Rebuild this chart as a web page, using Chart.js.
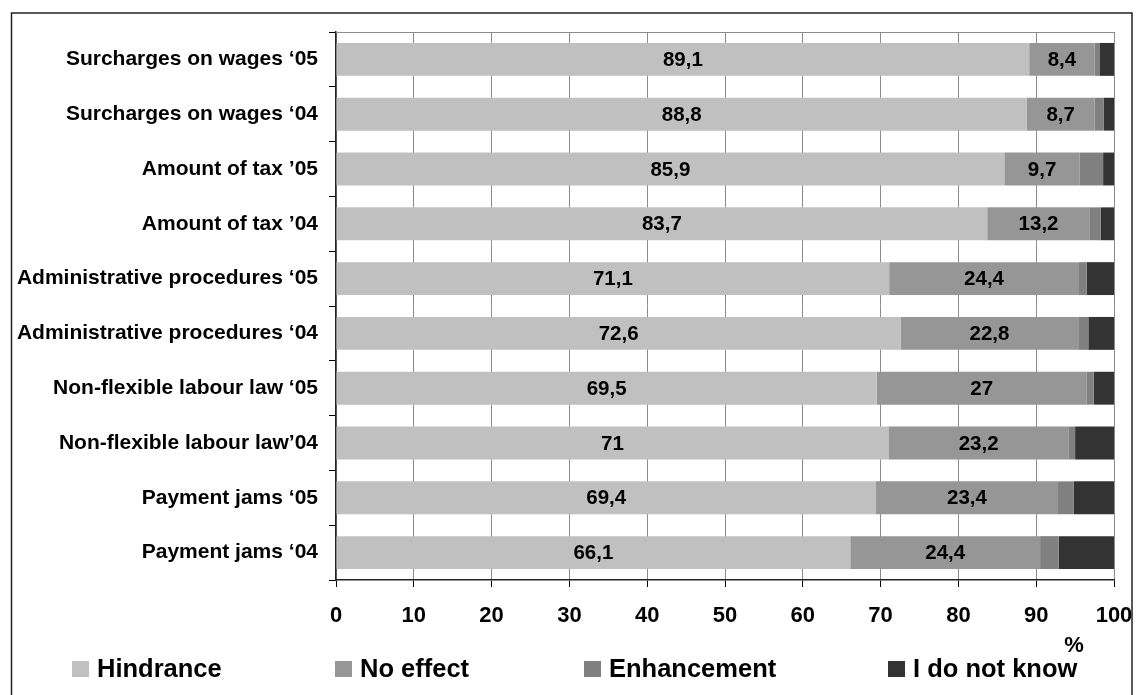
<!DOCTYPE html>
<html>
<head>
<meta charset="utf-8">
<script src="https://cdn.jsdelivr.net/npm/chart.js@4/dist/chart.umd.min.js"></script>
<style>
  html, body { margin: 0; padding: 0; background: #ffffff; }
  canvas { display: block; }
</style>
</head>
<body>
<canvas id="chart" width="1137" height="695"></canvas>
<script>
// Factors affecting business, share of answers in percent
const categories = [
  'Surcharges on wages \u201805',
  'Surcharges on wages \u201804',
  'Amount of tax \u201905',
  'Amount of tax \u201904',
  'Administrative procedures \u201805',
  'Administrative procedures \u201804',
  'Non-flexible labour law \u201805',
  'Non-flexible labour law\u201904',
  'Payment jams \u201805',
  'Payment jams \u201804'
];
const seriesNames = ['Hindrance', 'No effect', 'Enhancement', 'I do not know'];
const hindrance   = [89.1, 88.8, 85.9, 83.7, 71.1, 72.6, 69.5, 71, 69.4, 66.1];
const noEffect    = [8.4, 8.7, 9.7, 13.2, 24.4, 22.8, 27, 23.2, 23.4, 24.4];
const enhancement = [0.7, 1.2, 3.0, 1.4, 1.0, 1.3, 0.9, 0.8, 2.0, 2.4];
const dontKnow    = [1.8, 1.3, 1.4, 1.7, 3.5, 3.3, 2.6, 5.0, 5.2, 7.1];
const xTicks      = [0, 10, 20, 30, 40, 50, 60, 70, 80, 90, 100];
const unitLabel   = '%';

const colors = ['#c0c0c0', '#969696', '#808080', '#333333'];
const FONT = '"Liberation Sans", Arial, Helvetica, sans-serif';

// values printed inside the first two series
const labelledSeries = [0, 1];
const fmt = v => String(v).replace('.', ',');

const barLabels = {
  id: 'barLabels',
  afterDatasetsDraw(chart) {
    const ctx = chart.ctx;
    ctx.save();
    ctx.font = 'bold 20.5px ' + FONT;
    ctx.fillStyle = '#000';
    ctx.textAlign = 'center';
    ctx.textBaseline = 'middle';
    labelledSeries.forEach(di => {
      const meta = chart.getDatasetMeta(di);
      const data = chart.data.datasets[di].data;
      meta.data.forEach((el, i) => {
        const p = el.getProps(['x', 'y', 'base'], true);
        ctx.fillText(fmt(data[i]), (p.x + p.base) / 2, p.y + 1);
      });
    });
    ctx.restore();
  }
};

const frame = {
  id: 'frame',
  beforeDatasetsDraw(chart) {
    // light top edge of the plot area
    const a = chart.chartArea, ctx = chart.ctx;
    ctx.save();
    ctx.strokeStyle = '#8c8c8c';
    ctx.lineWidth = 1;
    ctx.beginPath();
    ctx.moveTo(a.left, a.top + 0.5);
    ctx.lineTo(a.right, a.top + 0.5);
    ctx.stroke();
    ctx.restore();
  },
  afterDraw(chart) {
    const ctx = chart.ctx;
    ctx.save();
    // outer box
    ctx.strokeStyle = '#222';
    ctx.lineWidth = 1.5;
    ctx.strokeRect(11.5, 13, 1120.5, 700);

    // unit under the value axis
    ctx.fillStyle = '#000';
    ctx.font = 'bold 22px ' + FONT;
    ctx.textAlign = 'center';
    ctx.textBaseline = 'middle';
    ctx.fillText(unitLabel, 1074, 646);

    // legend row
    const slots = [72, 335, 584, 888];
    ctx.font = 'bold 25.5px ' + FONT;
    ctx.textAlign = 'left';
    chart.data.datasets.forEach((ds, i) => {
      const x = slots[i];
      ctx.fillStyle = ds.backgroundColor;
      ctx.fillRect(x, 661, 17, 16);
      ctx.fillStyle = '#000';
      ctx.fillText(ds.label, x + 25, 670);
    });
    ctx.restore();
  }
};

const seriesData = [hindrance, noEffect, enhancement, dontKnow];

new Chart(document.getElementById('chart'), {
  type: 'bar',
  data: {
    labels: categories,
    datasets: seriesNames.map((name, i) => ({
      label: name,
      data: seriesData[i],
      backgroundColor: colors[i],
      borderWidth: 0,
      barPercentage: 0.6,
      categoryPercentage: 1
    }))
  },
  options: {
    indexAxis: 'y',
    responsive: false,
    animation: false,
    layout: { padding: { top: 32, right: 23, left: 0, bottom: 0 } },
    plugins: {
      legend: { display: false },
      tooltip: { enabled: false }
    },
    scales: {
      x: {
        stacked: true,
        min: 0,
        max: 100,
        afterBuildTicks(scale) { scale.ticks = xTicks.map(v => ({ value: v })); },
        ticks: {
          color: '#000',
          font: { family: FONT, size: 22, weight: 'bold' },
          padding: 16,
          maxRotation: 0
        },
        grid: { color: '#8c8c8c', tickColor: '#000', tickLength: 7, lineWidth: 1 },
        border: { color: '#222', width: 1.5 },
        afterFit(scale) {
          scale.height = 115;
          scale.paddingLeft = 0;
          scale.paddingRight = 0;
        }
      },
      y: {
        stacked: true,
        ticks: {
          color: '#000',
          font: { family: FONT, size: 21, weight: 'bold' },
          padding: 11
        },
        grid: { drawOnChartArea: false, tickColor: '#000', tickLength: 7, offset: true },
        border: { color: '#222', width: 1.5 },
        afterFit(scale) { scale.width = 336; }
      }
    }
  },
  plugins: [frame, barLabels]
});
</script>
</body>
</html>
